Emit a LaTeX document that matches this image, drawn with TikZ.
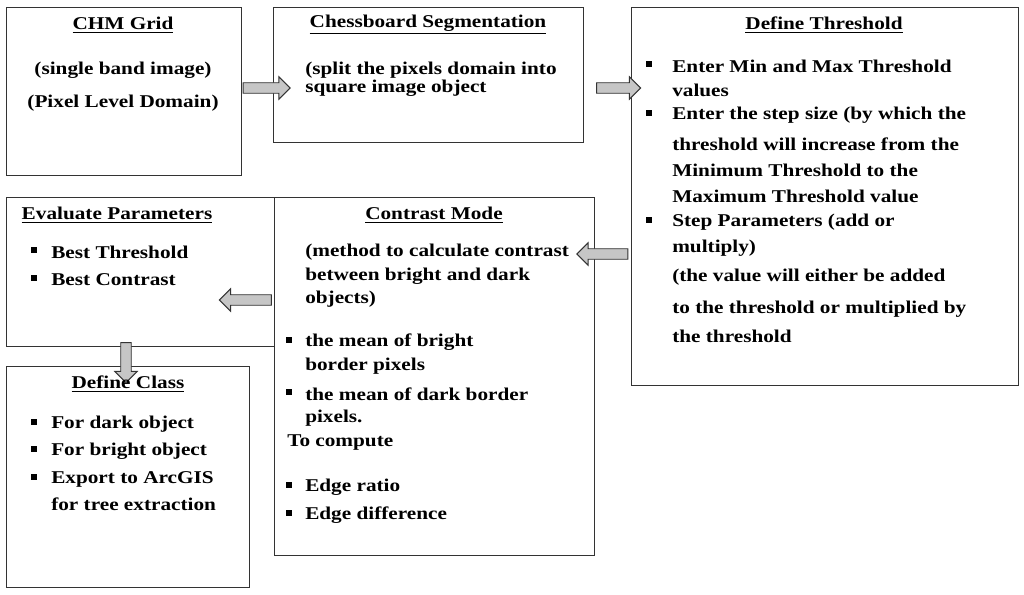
\documentclass[tikz,border=0pt]{standalone}
\usepackage{fontspec}
\setmainfont[FakeStretch=1.18]{Liberation Serif}
\usetikzlibrary{shapes.arrows}
\newcommand{\sqbul}{\rule[0.5ex]{4pt}{4pt}}
\begin{document}
\begin{tikzpicture}[x=0.75pt, y=-0.75pt,
  box/.style={draw=black!80, line width=0.9pt, anchor=north west, inner sep=0pt},
  txt/.style={anchor=west, inner sep=0pt, font=\fontsize{13.5}{16}\selectfont\bfseries},
  ttl/.style={anchor=center, inner sep=0pt, font=\fontsize{13.5}{16}\selectfont\bfseries},
  fat/.style={single arrow, draw=black!80, fill=gray!45, line width=0.7pt,
    inner sep=3.6pt, single arrow head extend=4.5pt, anchor=center}]
\useasboundingbox (0,0) rectangle (1024,595);

% Boxes
\node[box, minimum width={235*0.75pt}, minimum height={168*0.75pt}] (chm) at (6,7) {};
\node[box, minimum width={310*0.75pt}, minimum height={135*0.75pt}] (chess) at (273,7) {};
\node[box, minimum width={387*0.75pt}, minimum height={378*0.75pt}] (thr) at (631,7) {};
\node[box, minimum width={268*0.75pt}, minimum height={149*0.75pt}] (eval) at (6,197) {};
\node[box, minimum width={320*0.75pt}, minimum height={358*0.75pt}] (contr) at (274,197) {};
\node[box, minimum width={243*0.75pt}, minimum height={221*0.75pt}] (cls) at (6,366) {};

% Arrows
\node[fat, minimum height={47*0.75pt}] (a12) at (264,88) {};
\node[fat, minimum height={44*0.75pt}] (a23) at (616,88) {};
\node[fat, minimum height={51*0.75pt}, shape border rotate=180] (a35) at (605,254) {};
\node[fat, minimum height={52*0.75pt}, shape border rotate=180] (a54) at (248,300) {};
\node[fat, minimum height={40*0.75pt}, shape border rotate=270] (a46) at (126,360) {};

% CHM Grid
\node[ttl] (t1) at (123,25) {\underline{CHM Grid}};
\node[ttl] (l11) at (123,70) {(single band image)};
\node[ttl] (l12) at (123,103) {(Pixel Level Domain)};

% Chessboard
\node[ttl] (t2) at (428,25) {\underline{Chessboard Segmentation}};
\node[txt] (l21) at (305,70) {(split the pixels domain into};
\node[txt] (l22) at (305,88) {square image object};

% Threshold
\node[ttl] (t3) at (824,25) {\underline{Define Threshold}};
\foreach \yy in {66,115,222}
  \node[txt] at (646,\yy) {\sqbul};
\foreach \yy/\tt in {66/Enter Min and Max Threshold, 90/values,
  115/Enter the step size (by which the, 144/threshold will increase from the,
  170/Minimum Threshold to the, 196/Maximum Threshold value,
  222/Step Parameters (add or, 248/multiply),
  277/(the value will either be added, 309/to the threshold or multiplied by,
  336/the threshold}
  \node[txt] at (672,\yy) {\tt};

% Evaluate
\node[ttl] (t4) at (117,215) {\underline{Evaluate Parameters}};
\node[txt] at (31,252) {\sqbul}; \node[txt] at (31,280) {\sqbul};
\node[txt] (l41) at (51,252) {Best Threshold};
\node[txt] (l42) at (51,280) {Best Contrast};

% Contrast
\node[ttl] (t5) at (434,215) {\underline{Contrast Mode}};
\foreach \yy/\tt in {252/(method to calculate contrast, 276/between bright and dark,
  299/objects), 342/the mean of bright, 366/border pixels,
  394/the mean of dark border, 418/pixels., 487/Edge ratio, 515/Edge difference}
  \node[txt] at (305,\yy) {\tt};
\foreach \yy in {342,394,487,515}
  \node[txt] at (286,\yy) {\sqbul};
\node[txt] (l5c) at (287,443) {To compute};

% Class
\node[ttl] (t6) at (128,384) {\underline{Define Class}};
\foreach \yy in {424,451,479}
  \node[txt] at (31,\yy) {\sqbul};
\foreach \yy/\tt in {424/For dark object, 451/For bright object,
  479/Export to ArcGIS, 504/for tree extraction}
  \node[txt] at (51,\yy) {\tt};
\end{tikzpicture}
\end{document}
